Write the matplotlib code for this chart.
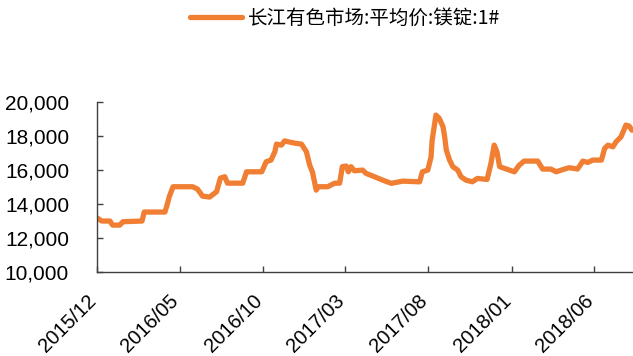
import matplotlib
matplotlib.use("Agg")
import matplotlib.pyplot as plt
import matplotlib.transforms as mtransforms
from matplotlib.ticker import FuncFormatter
import pandas as pd

# 长江有色市场 镁锭(1#) 平均价, 元/吨
dates = [
    "2015-12-01", "2015-12-10", "2015-12-25", "2015-12-30", "2016-01-12", "2016-01-18",
    "2016-02-22", "2016-02-26", "2016-04-04", "2016-04-08", "2016-04-12", "2016-04-19",
    "2016-05-25", "2016-06-03", "2016-06-12", "2016-06-25", "2016-07-08", "2016-07-15",
    "2016-07-23", "2016-07-28", "2016-08-25", "2016-09-01", "2016-09-29", "2016-10-07",
    "2016-10-16", "2016-10-23", "2016-10-26", "2016-11-04", "2016-11-10", "2016-11-19",
    "2016-11-28", "2016-12-11", "2016-12-20", "2016-12-26", "2016-12-31", "2017-01-07",
    "2017-01-11", "2017-01-28", "2017-02-10", "2017-02-19", "2017-02-24", "2017-03-03",
    "2017-03-07", "2017-03-12", "2017-03-18", "2017-04-02", "2017-04-09", "2017-04-24",
    "2017-05-09", "2017-05-25", "2017-06-15", "2017-07-16", "2017-07-21", "2017-07-31",
    "2017-08-06", "2017-08-08", "2017-08-15", "2017-08-21", "2017-08-28", "2017-08-31",
    "2017-09-03", "2017-09-09", "2017-09-15", "2017-09-24", "2017-09-30", "2017-10-09",
    "2017-10-21", "2017-10-30", "2017-11-17", "2017-11-24", "2017-11-30", "2017-12-05",
    "2017-12-10", "2017-12-19", "2017-12-28", "2018-01-06", "2018-01-15", "2018-01-24",
    "2018-02-18", "2018-02-27", "2018-03-14", "2018-03-24", "2018-04-08", "2018-04-17",
    "2018-05-02", "2018-05-12", "2018-05-21", "2018-05-30", "2018-06-15", "2018-06-21",
    "2018-06-27", "2018-07-06", "2018-07-12", "2018-07-21", "2018-07-30", "2018-08-05",
    "2018-08-10",
]
prices = [
    13190, 13000, 13000, 12760, 12760, 12960,
    13000, 13530, 13530, 13940, 14430, 15020,
    15020, 14880, 14470, 14410, 14730, 15530,
    15610, 15230, 15230, 15900, 15900, 16490,
    16590, 17080, 17530, 17470, 17720, 17650,
    17590, 17530, 17080, 16290, 15900, 14820,
    15020, 15020, 15230, 15230, 16200, 16240,
    15900, 16200, 15960, 16000, 15800, 15610,
    15410, 15220, 15350, 15310, 15900, 16000,
    16780, 17760, 19240, 19050, 18550, 17960,
    17180, 16590, 16200, 16000, 15610, 15410,
    15310, 15510, 15450, 16390, 17470, 17080,
    16200, 16100, 16000, 15900, 16290, 16530,
    16530, 16060, 16060, 15900, 16060, 16140,
    16060, 16530, 16450, 16590, 16590, 17280,
    17470, 17370, 17670, 17960, 18650, 18590,
    18350,
]
series_name = "长江有色市场:平均价:镁锭:1#"
tick_dates = ["2015-12-01", "2016-05-01", "2016-10-01", "2017-03-01",
              "2017-08-01", "2018-01-01", "2018-06-01"]
tick_labels = ["2015/12", "2016/05", "2016/10", "2017/03",
               "2017/08", "2018/01", "2018/06"]
y_ticks = [10000, 12000, 14000, 16000, 18000, 20000]

x = pd.to_datetime(dates)
orange = "#F07E33"
axis_col = "#404040"

fig = plt.figure(figsize=(6.33, 3.56), dpi=100)
ax = fig.add_axes([0.153, 0.236, 0.847, 0.477])

line, = ax.plot(x, prices, color=orange, lw=3.8, solid_joinstyle="round",
                solid_capstyle="round", label=series_name)

ax.set_xlim(pd.Timestamp("2015-12-01"), pd.Timestamp("2018-08-12"))
ax.set_ylim(10000, 20000)
ax.set_yticks(y_ticks)
ax.yaxis.set_major_formatter(FuncFormatter(lambda v, p: f"{int(v):,}"))
ax.set_xticks(pd.to_datetime(tick_dates))
ax.set_xticklabels(tick_labels, rotation=45, ha="right")

for s in ("top", "right"):
    ax.spines[s].set_visible(False)
for s in ("left", "bottom"):
    ax.spines[s].set_color(axis_col)
    ax.spines[s].set_linewidth(1.0)

ax.tick_params(axis="both", direction="in", length=4, width=1.0, color=axis_col,
               labelcolor="black")
ax.tick_params(axis="y", pad=20, labelsize=15)
ax.tick_params(axis="x", pad=14, labelsize=14.5)
shift = mtransforms.ScaledTranslation(3 / 100, 0, fig.dpi_scale_trans)
for lab in ax.get_xticklabels():
    lab.set_fontfamily("Liberation Sans")
    lab.set_transform(lab.get_transform() + shift)
for lab in ax.get_yticklabels():
    lab.set_fontfamily("Liberation Sans")

fig.legend(handles=[line], labels=[series_name], loc="center",
           bbox_to_anchor=(0.545, 0.949), frameon=False, handlelength=2.7,
           handletextpad=0.3,
           prop={"family": ["Noto Sans CJK SC", "DejaVu Sans"], "size": 14})

fig.savefig("out.png", dpi=100)
